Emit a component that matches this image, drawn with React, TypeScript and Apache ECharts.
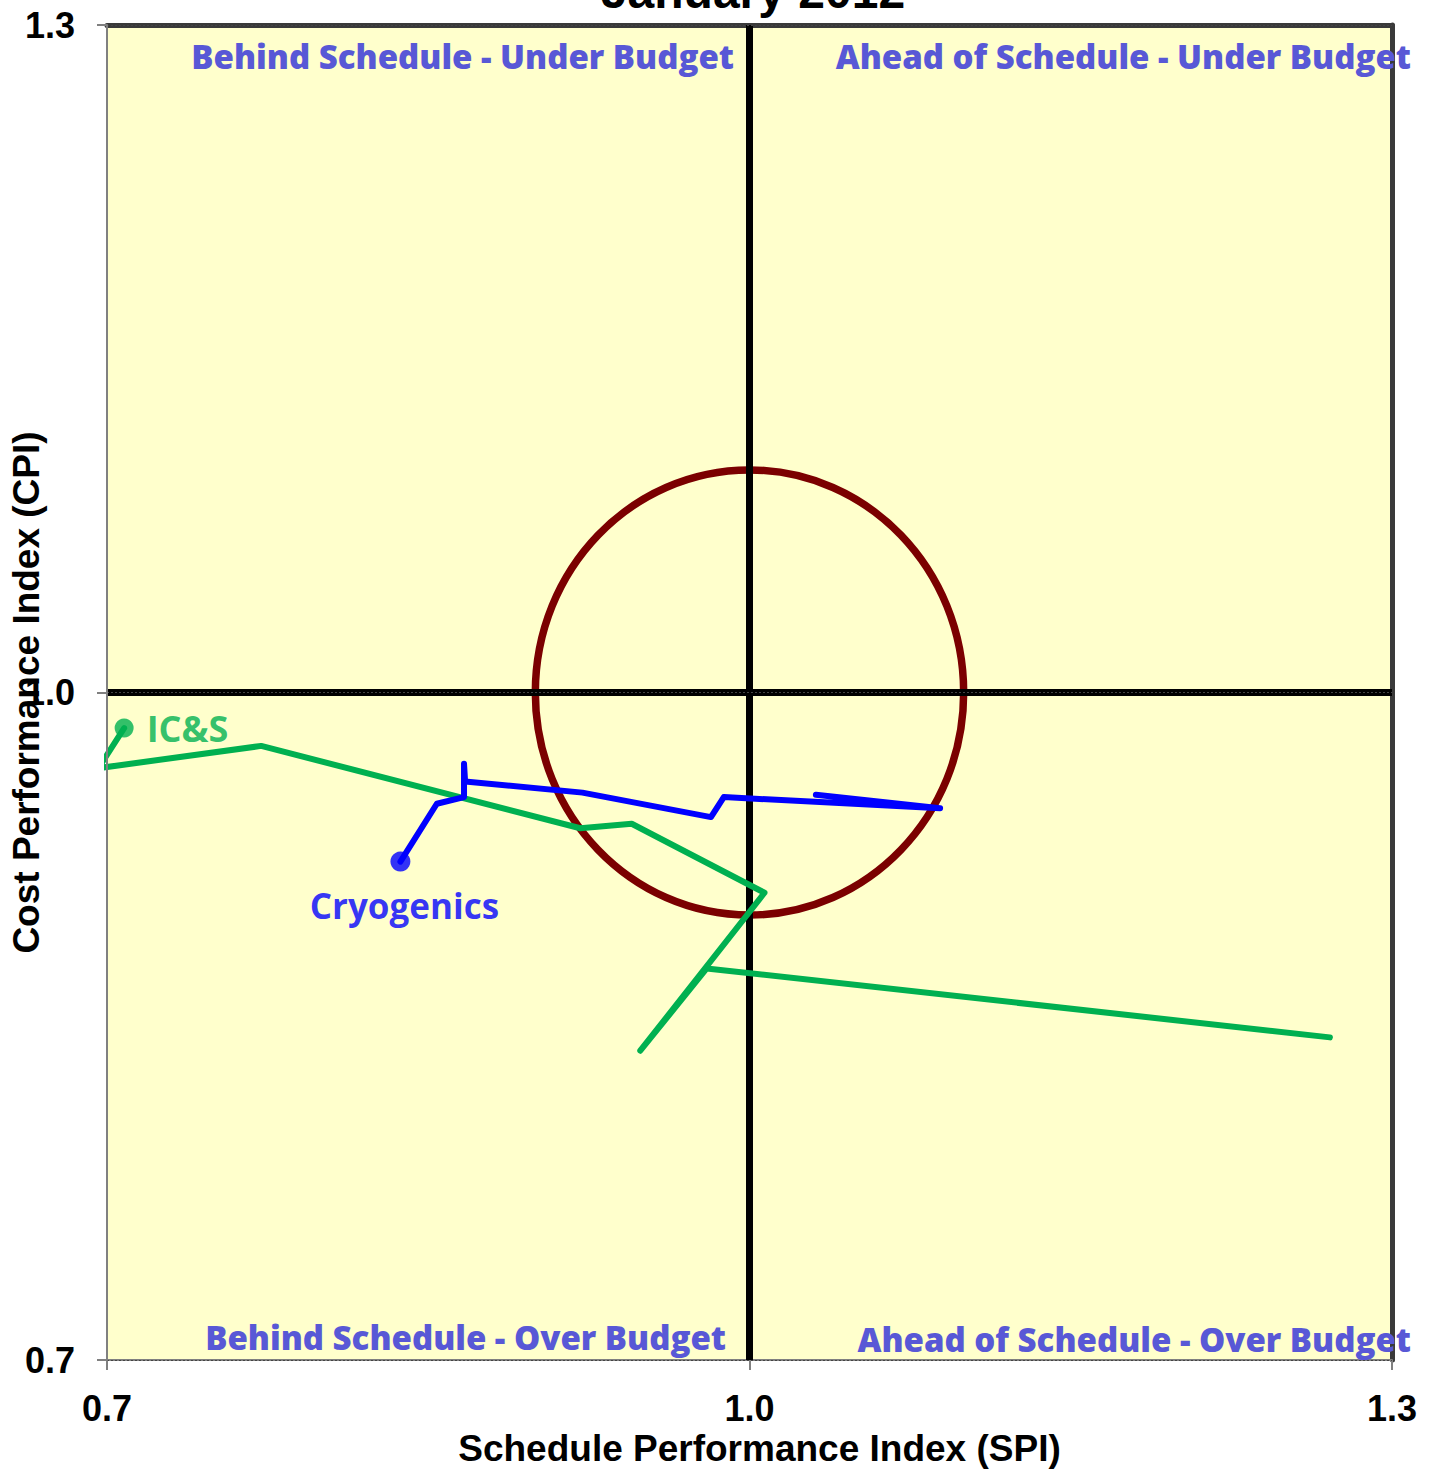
import React, { useEffect, useRef } from "react";
import * as echarts from "echarts";

// ---------- data ----------
const titleText = "January 2012";
const xAxisName = "Schedule Performance Index (SPI)";
const yAxisName = "Cost Performance Index (CPI)";
const axisMin = 0.7;
const axisMax = 1.3;
const gridStep = 0.1;
const tickValues = [0.7, 1.0, 1.3];

// target circle: centre (SPI, CPI) and radius in index units
const targetCircle = [1.0, 1.0, 0.1];
const referenceLines = [1.0];

// series (first point = latest, marked with a dot)
const cryoName = "Cryogenics";
const cryoSPI = [0.837, 0.854, 0.8667, 0.8667, 0.8672, 0.922, 0.982, 0.988, 1.089, 1.031];
const cryoCPI = [0.924, 0.950, 0.953, 0.968, 0.960, 0.955, 0.944, 0.953, 0.948, 0.954];

const icsName = "IC&S";
const icsSPI = [0.708, 0.696, 0.772, 0.921, 0.945, 1.007, 0.949, 0.980, 1.271];
const icsCPI = [0.984, 0.966, 0.976, 0.939, 0.941, 0.910, 0.839, 0.876, 0.845];

const quadrantTexts = [
  "Behind Schedule - Under Budget",
  "Ahead of Schedule - Under Budget",
  "Behind Schedule - Over Budget",
  "Ahead of Schedule - Over Budget",
];

// ---------- styles ----------
const ARIAL = "'Liberation Sans', Arial, sans-serif";
const LABEL_FONT = "'Open Sans', 'Noto Sans', sans-serif";
const QUAD_FONT = "'Open Sans', 'Noto Sans', sans-serif";
const QUAD_COLOR = "#5858D6";
const BLUE = "#0000FF";
const GREEN = "#00B050";
const quadPos = [
  { x: 734, y: 56 },
  { x: 1411, y: 56 },
  { x: 726, y: 1337 },
  { x: 1411, y: 1339 },
];

export default function App() {
  const ref = useRef<HTMLDivElement>(null);

  useEffect(() => {
    if (!ref.current) return;
    const chart = echarts.init(ref.current, null, { renderer: "svg" });

    const tickFmt = (v: number) => v.toFixed(1);

    const option: any = {
      animation: false,
      backgroundColor: "#FFFFFF",
      grid: {
        left: 107,
        right: 40,
        top: 25,
        bottom: 112,
        containLabel: false,
        outerBoundsMode: "none",
        show: true,
        backgroundColor: "#FFFFCC",
        borderWidth: 0,
      },
      graphic: [
        {
          type: "text",
          x: 753,
          y: -33,
          z: 100,
          style: {
            text: titleText,
            fontSize: 48,
            fontWeight: "bold",
            fontFamily: ARIAL,
            fill: "#000",
            align: "center",
            verticalAlign: "top",
          },
        },
        ...quadrantTexts.map((t, i) => ({
          type: "text",
          x: quadPos[i].x,
          y: quadPos[i].y,
          z: 100,
          style: {
            text: t,
            fontSize: 33,
            fontWeight: 800,
            fontFamily: QUAD_FONT,
            fill: QUAD_COLOR,
            align: "right",
            verticalAlign: "middle",
          },
        })),
      ],
      xAxis: [
        {
          type: "value",
          min: axisMin,
          max: axisMax,
          interval: gridStep,
          position: "bottom",
          axisLine: { show: true, onZero: false, lineStyle: { color: "#808080", width: 2 } },
          axisTick: { show: true, customValues: tickValues, length: 10, lineStyle: { color: "#808080", width: 2 } },
          axisLabel: {
            customValues: tickValues,
            formatter: tickFmt,
            fontSize: 36,
            fontWeight: "bold",
            fontFamily: ARIAL,
            color: "#000",
            margin: 30,
          },
          splitLine: { show: true, lineStyle: { type: [2, 2], color: "#444", width: 1 } },
          name: xAxisName,
          nameLocation: "middle",
          nameGap: 70,
          nameMoveOverlap: false,
          nameTextStyle: {
            fontSize: 37,
            fontWeight: "bold",
            fontFamily: ARIAL,
            color: "#000",
            padding: [0, 0, 0, 20],
          },
        },
        {
          type: "value",
          min: axisMin,
          max: axisMax,
          position: "top",
          axisLine: { show: true, onZero: false, lineStyle: { color: "#3a3a3a", width: 5 } },
          axisTick: { show: false },
          axisLabel: { show: false },
          splitLine: { show: false },
        },
      ],
      yAxis: [
        {
          type: "value",
          min: axisMin,
          max: axisMax,
          interval: gridStep,
          position: "left",
          axisLine: { show: true, onZero: false, lineStyle: { color: "#808080", width: 2 } },
          axisTick: { show: true, customValues: tickValues, length: 10, lineStyle: { color: "#808080", width: 2 } },
          axisLabel: {
            customValues: tickValues,
            formatter: tickFmt,
            fontSize: 36,
            fontWeight: "bold",
            fontFamily: ARIAL,
            color: "#000",
            margin: 32,
          },
          splitLine: { show: true, lineStyle: { type: [2, 2], color: "#444", width: 1 } },
          name: yAxisName,
          nameLocation: "middle",
          nameGap: 62,
          nameMoveOverlap: false,
          nameTextStyle: { fontSize: 37, fontWeight: "bold", fontFamily: ARIAL, color: "#000" },
          z: 10,
        },
        {
          type: "value",
          min: axisMin,
          max: axisMax,
          position: "right",
          axisLine: { show: true, onZero: false, lineStyle: { color: "#3a3a3a", width: 5 } },
          axisTick: { show: false },
          axisLabel: { show: false },
          splitLine: { show: false },
        },
      ],
      series: [
        {
          type: "custom",
          name: "target",
          xAxisIndex: 0,
          yAxisIndex: 0,
          z: 3,
          silent: true,
          data: [targetCircle],
          renderItem: (params: any, api: any) => {
            const c = api.coord([api.value(0), api.value(1)]);
            const s = api.size([api.value(2), api.value(2)]);
            return {
              type: "ellipse",
              shape: { cx: c[0], cy: c[1], rx: s[0], ry: s[1] },
              style: { fill: "none", stroke: "#7B0000", lineWidth: 7.5 },
              z2: 10,
            };
          },
          markLine: {
            silent: true,
            symbol: "none",
            label: { show: false },
            lineStyle: { color: "#000", width: 7, type: "solid" },
            data: [
              ...referenceLines.map((v) => ({ xAxis: v })),
              ...referenceLines.map((v) => ({ yAxis: v })),
            ],
          },
        },
        {
          type: "line",
          name: icsName,
          xAxisIndex: 0,
          yAxisIndex: 0,
          z: 5,
          symbol: "none",
          data: icsSPI.map((x, i) => [x, icsCPI[i]]),
          lineStyle: { color: GREEN, width: 6, cap: "round", join: "round" },
        },
        {
          type: "line",
          name: cryoName,
          xAxisIndex: 0,
          yAxisIndex: 0,
          z: 6,
          symbol: "none",
          data: cryoSPI.map((x, i) => [x, cryoCPI[i]]),
          lineStyle: { color: BLUE, width: 6, cap: "round", join: "round" },
        },
        {
          type: "scatter",
          name: icsName + " latest",
          z: 7,
          symbolSize: 19,
          itemStyle: { color: GREEN },
          data: [[icsSPI[0], icsCPI[0]]],
          label: {
            show: true,
            formatter: icsName,
            position: "right",
            distance: 13,
            color: GREEN,
            fontSize: 36,
            fontWeight: "bold",
            fontFamily: LABEL_FONT,
          },
        },
        {
          type: "scatter",
          name: cryoName + " latest",
          z: 7,
          symbolSize: 20,
          itemStyle: { color: BLUE },
          data: [[cryoSPI[0], cryoCPI[0]]],
          label: {
            show: true,
            formatter: cryoName,
            position: "bottom",
            distance: 16,
            offset: [4, 0],
            color: BLUE,
            fontSize: 35,
            fontWeight: "bold",
            fontFamily: LABEL_FONT,
          },
        },
      ],
    };

    chart.setOption(option);
    return () => chart.dispose();
  }, []);

  return (
    <div
      ref={ref}
      style={{ position: "fixed", left: 0, top: 0, width: 1432, height: 1472 }}
    />
  );
}
